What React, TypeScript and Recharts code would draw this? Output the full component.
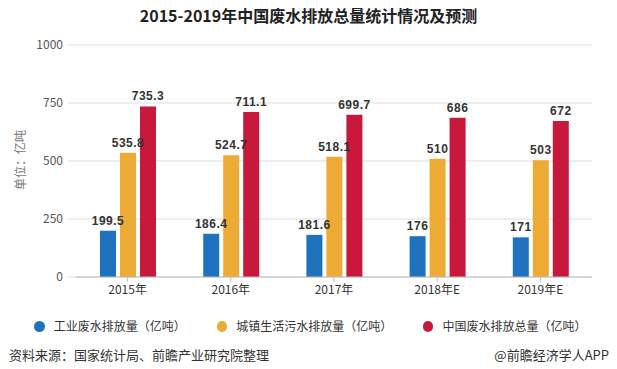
import { BarChart, Bar, XAxis, YAxis, CartesianGrid, LabelList } from "recharts";

const years = ["2015年", "2016年", "2017年", "2018年E", "2019年E"];
const industrial = [199.5, 186.4, 181.6, 176, 171];
const urban = [535.8, 524.7, 518.1, 510, 503];
const total = [735.3, 711.1, 699.7, 686, 672];
const yTicks = [0, 250, 500, 750, 1000];

const series = [
    { key: "industrial", name: "工业废水排放量（亿吨）", color: "#1f73be" },
    { key: "urban", name: "城镇生活污水排放量（亿吨）", color: "#edab35" },
    { key: "total", name: "中国废水排放总量（亿吨）", color: "#c8183c" },
];

const data = years.map((year, i) => ({
    year,
    industrial: industrial[i],
    urban: urban[i],
    total: total[i],
}));

const cjk = "'Noto Sans CJK SC', 'Liberation Sans', sans-serif";

function App() {
    return (
        <div style={{ position: "absolute", left: 0, top: 0, width: 617, height: 369, background: "#fff", fontFamily: cjk }}>
            <div style={{ position: "absolute", top: 4, left: 0, width: 617, textAlign: "center", fontSize: 16, fontWeight: 700, color: "#222", lineHeight: "22px" }}>
                2015-2019年中国废水排放总量统计情况及预测
            </div>
            <div style={{ position: "absolute", left: -12, top: 152, width: 64, textAlign: "center", fontSize: 12, color: "#777", transform: "rotate(-90deg)", lineHeight: "16px" }}>
                单位：亿吨
            </div>
            <BarChart width={617} height={369} data={data} margin={{ top: 45, right: 25, left: 26, bottom: 70 }} barSize={16} barGap={4}>
                <CartesianGrid vertical={false} stroke="#dddddd" />
                <XAxis
                    dataKey="year"
                    height={22}
                    stroke="#bbbbbb"
                    tickSize={5}
                    tickMargin={3}
                    tick={{ fill: "#333", fontSize: 12, fontFamily: cjk }}
                />
                <YAxis
                    width={50}
                    domain={[0, 1000]}
                    ticks={yTicks}
                    axisLine={false}
                    tickSize={8}
                    tickMargin={5}
                    tickLine={{ stroke: "#dddddd" }}
                    tick={{ fill: "#555", fontSize: 12, fontFamily: cjk }}
                />
                {series.map((s) => (
                    <Bar key={s.key} dataKey={s.key} name={s.name} fill={s.color} isAnimationActive={false}>
                        <LabelList
                            dataKey={s.key}
                            position="top"
                            offset={6}
                            style={{ fill: "#333", fontSize: 12, fontWeight: 700, fontFamily: "'Liberation Sans', Arial, sans-serif", letterSpacing: 0.5 }}
                        />
                    </Bar>
                ))}
            </BarChart>
            <div style={{ position: "absolute", top: 318, left: 34, display: "flex", alignItems: "center", fontSize: 12, color: "#333", lineHeight: "16px" }}>
                {series.map((s) => (
                    <div key={s.key} style={{ display: "flex", alignItems: "center", marginRight: 33 }}>
                        <span style={{ display: "inline-block", width: 11, height: 11, borderRadius: "50%", background: s.color, marginRight: 9 }} />
                        <span>{s.name}</span>
                    </div>
                ))}
            </div>
            <div style={{ position: "absolute", top: 346, left: 9, fontSize: 13, color: "#333", lineHeight: "18px" }}>
                资料来源：国家统计局、前瞻产业研究院整理
            </div>
            <div style={{ position: "absolute", top: 346, right: 8, fontSize: 13, color: "#333", lineHeight: "18px" }}>
                @前瞻经济学人APP
            </div>
        </div>
    );
}

export default App;
